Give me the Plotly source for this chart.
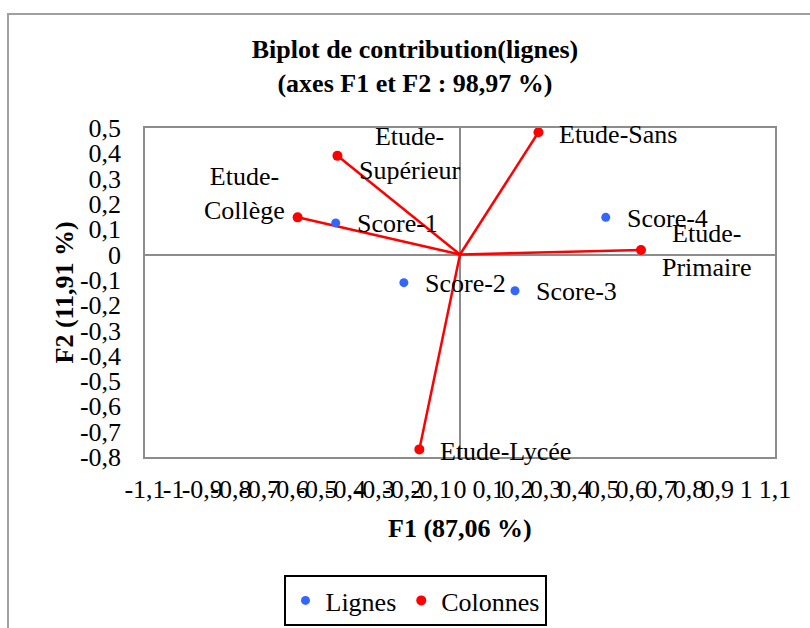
import plotly.graph_objects as go

# Column profiles (Colonnes) on the first two factorial axes
col_names = ["Etude-Collège", "Etude-Supérieur", "Etude-Sans", "Etude-Primaire", "Etude-Lycée"]
col_f1 = [-0.567, -0.428, 0.274, 0.632, -0.142]
col_f2 = [0.147, 0.390, 0.483, 0.018, -0.770]

# Row profiles (Lignes)
row_names = ["Score-1", "Score-2", "Score-3", "Score-4"]
row_f1 = [-0.434, -0.196, 0.192, 0.509]
row_f2 = [0.125, -0.111, -0.143, 0.147]

# Axis ticks
x_ticks = [round(-1.1 + 0.1 * i, 1) for i in range(23)]
y_ticks = [round(-0.8 + 0.1 * i, 1) for i in range(14)]


def fr_label(v):
    s = f"{v:g}".replace(".", ",")
    return "0" if s in ("0", "-0") else s


x_ticktext = [fr_label(v) for v in x_ticks]
y_ticktext = [fr_label(v) for v in y_ticks]

FONT = "Liberation Serif, Times New Roman, serif"
FS = 26
RED = "#ff0000"
BLUE = "#3366ff"
AXIS_GRAY = "#8c8c8c"

X_RANGE = [-1.1, 1.1]
Y_RANGE = [-0.8, 0.5]

fig = go.Figure()

# Vectors from the origin to each column point
line_x, line_y = [], []
for fx, fy in zip(col_f1, col_f2):
    line_x += [0, fx, None]
    line_y += [0, fy, None]
fig.add_trace(go.Scatter(x=line_x, y=line_y, mode="lines",
                         line=dict(color=RED, width=2.5),
                         showlegend=False, hoverinfo="skip"))

fig.add_trace(go.Scatter(x=row_f1, y=row_f2, mode="markers", name="Lignes",
                         text=row_names,
                         marker=dict(color=BLUE, size=9)))
fig.add_trace(go.Scatter(x=col_f1, y=col_f2, mode="markers", name="Colonnes",
                         text=col_names,
                         marker=dict(color=RED, size=10)))

# Label placement: (xanchor, xshift px, yshift px, two-line)
placement = {
    "Etude-Collège": ("center", -53, 24, True),
    "Etude-Supérieur": ("center", 72, 2, True),
    "Etude-Sans": ("left", 19, -2, False),
    "Etude-Primaire": ("center", 66, -1, True),
    "Etude-Lycée": ("left", 19, -2, False),
    "Score-1": ("left", 19, -1, False),
    "Score-2": ("left", 19, -1, False),
    "Score-3": ("left", 19, -1, False),
    "Score-4": ("left", 19, -1, False),
}

annotations = []
for names, xs, ys in ((col_names, col_f1, col_f2), (row_names, row_f1, row_f2)):
    for n, px, py in zip(names, xs, ys):
        xa, dx, dy, split = placement[n]
        txt = n.replace("-", "-<br>", 1) if split else n
        annotations.append(dict(x=px, y=py, xref="x", yref="y", text=txt,
                                showarrow=False, xanchor=xa, yanchor="middle",
                                xshift=dx, yshift=dy, align="center",
                                font=dict(family=FONT, size=FS, color="black")))

# Axis titles
annotations.append(dict(x=0.5, y=0, xref="paper", yref="paper",
                        text="<b>F1 (87,06 %)</b>", showarrow=False,
                        xanchor="center", yanchor="middle", yshift=-71,
                        font=dict(family=FONT, size=FS, color="black")))
annotations.append(dict(x=-0.127, y=0.5, xref="paper", yref="paper",
                        text="<b>F2 (11,91 %)</b>", showarrow=False, textangle=-90,
                        xanchor="center", yanchor="middle",
                        font=dict(family=FONT, size=FS, color="black")))

# Paper positions of the origin inside the plot area
x0_pos = (0 - X_RANGE[0]) / (X_RANGE[1] - X_RANGE[0])
y0_pos = (0 - Y_RANGE[0]) / (Y_RANGE[1] - Y_RANGE[0])

cross_tick = dict(showticklabels=False, showline=False, showgrid=False,
                  zeroline=False, ticklen=7, tickwidth=1.5, tickcolor=AXIS_GRAY,
                  automargin=False)

fig.update_layout(
    width=810, height=628,
    margin=dict(l=145, r=35, t=128, b=171),
    paper_bgcolor="white", plot_bgcolor="white",
    font=dict(family=FONT, size=FS, color="black"),
    title=dict(text="<b>Biplot de contribution(lignes)<br>(axes F1 et F2 : 98,97 %)</b>",
               x=415 / 810, xanchor="center", y=1 - 58 / 628, yanchor="middle",
               yref="container",
               font=dict(family=FONT, size=FS, color="black")),
    xaxis=dict(range=X_RANGE, tickvals=x_ticks, ticktext=x_ticktext, tickangle=0,
               showgrid=False, zeroline=True, zerolinecolor=AXIS_GRAY, zerolinewidth=1.5,
               showline=True, mirror=True, linecolor=AXIS_GRAY, linewidth=1.5,
               ticks="", ticklabelstandoff=8, automargin=False,
               tickfont=dict(family=FONT, size=FS, color="black")),
    yaxis=dict(range=Y_RANGE, tickvals=y_ticks, ticktext=y_ticktext,
               showgrid=False, zeroline=True, zerolinecolor=AXIS_GRAY, zerolinewidth=1.5,
               showline=True, mirror=True, linecolor=AXIS_GRAY, linewidth=1.5,
               ticks="", ticklabelstandoff=17, automargin=False,
               tickfont=dict(family=FONT, size=FS, color="black")),
    # Tick marks crossing the axes through the origin
    xaxis2=dict(overlaying="x", range=X_RANGE, anchor="free", position=y0_pos,
                tickvals=x_ticks, ticks="outside", **cross_tick),
    xaxis3=dict(overlaying="x", range=X_RANGE, anchor="free", position=y0_pos,
                tickvals=x_ticks, ticks="inside", **cross_tick),
    yaxis2=dict(overlaying="y", range=Y_RANGE, anchor="free", position=x0_pos,
                tickvals=y_ticks, ticks="outside", **cross_tick),
    yaxis3=dict(overlaying="y", range=Y_RANGE, anchor="free", position=x0_pos,
                tickvals=y_ticks, ticks="inside", **cross_tick),
    legend=dict(orientation="h", x=415 / 810, xanchor="center", xref="container",
                y=1 - 575 / 628, yanchor="top", yref="container",
                bordercolor="black", borderwidth=2, bgcolor="white",
                font=dict(family=FONT, size=FS, color="black")),
    annotations=annotations,
    shapes=[dict(type="rect", xref="paper", yref="paper",
                 x0=(8 - 145) / 630, x1=(820 - 145) / 630,
                 y0=(457 - 650) / 329, y1=(457 - 14) / 329,
                 line=dict(color="#a0a0a0", width=2), fillcolor="rgba(0,0,0,0)",
                 layer="below")],
    showlegend=True,
)

fig.write_html("out.html")
